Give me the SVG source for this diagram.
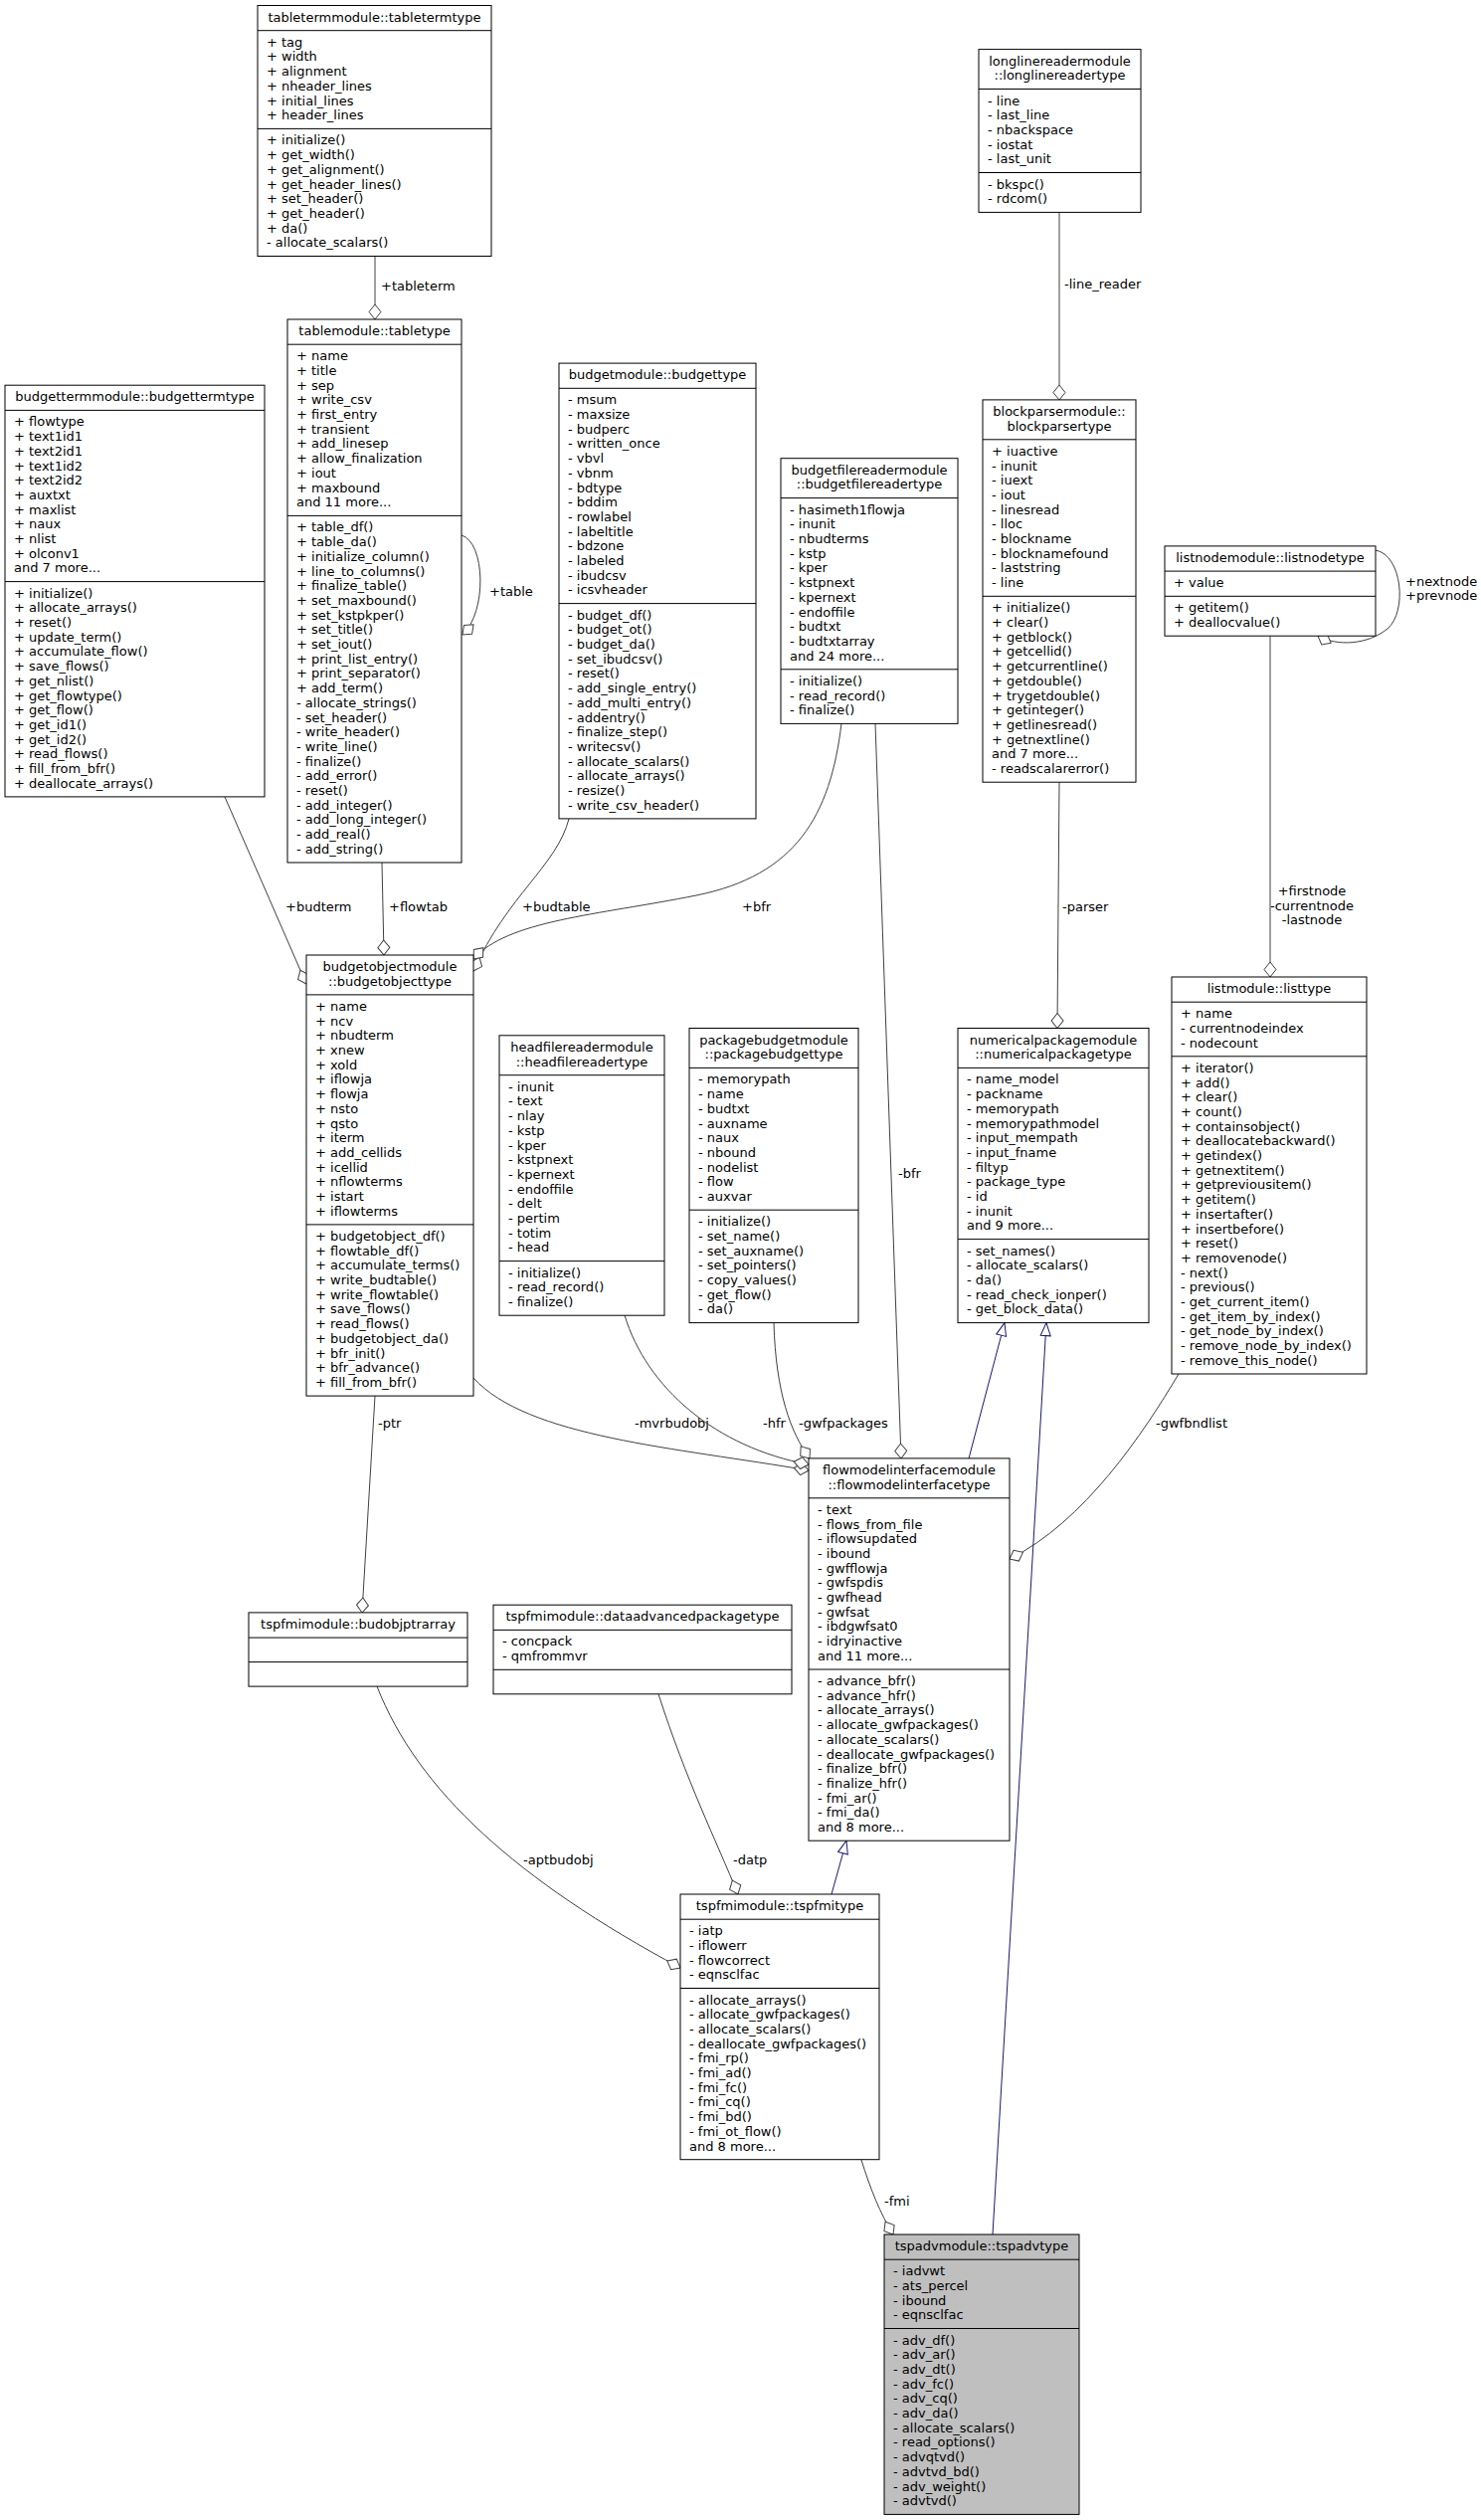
<svg xmlns="http://www.w3.org/2000/svg" width="1489" height="2533" viewBox="0 0 1489 2533">
<style>
text{font-family:"DejaVu Sans","Liberation Sans",sans-serif;font-size:13px;fill:#000}
.c{text-anchor:middle}
.n rect{fill:#fff;stroke:#000;stroke-width:1}
.n line{stroke:#000;stroke-width:1}
.root rect{fill:#bfbfbf}
.e{fill:none;stroke:#404040;stroke-width:1;marker-end:url(#dia)}
.i{fill:none;stroke:#191970;stroke-width:1;marker-end:url(#tri)}
</style>
<defs>
<marker id="dia" markerUnits="userSpaceOnUse" viewBox="-1 -7 17 14" markerWidth="17" markerHeight="14" refX="15" refY="0" orient="auto" overflow="visible"><path d="M0,0L7.5,-6L15,0L7.5,6Z" fill="#fff" stroke="#404040"/></marker>
<marker id="tri" markerUnits="userSpaceOnUse" viewBox="-1 -6 15 12" markerWidth="15" markerHeight="12" refX="13" refY="0" orient="auto" overflow="visible"><path d="M0,-5L13,0L0,5Z" fill="#fff" stroke="#191970"/></marker>
</defs>
<rect width="1489" height="2533" fill="#fff"/>
<g id="connectors">
<path class="e" d="M377,257.5L377,321"/>
<text x="383" y="292">+tableterm</text>
<path class="e" d="M464,538C488,545 490,615 465,638"/>
<text x="492" y="599">+table</text>
<path class="e" d="M226,801L308,989"/>
<text x="287" y="916">+budterm</text>
<path class="e" d="M384,867L386,960"/>
<text x="391" y="916">+flowtab</text>
<path class="e" d="M572,823C560,870 510,900 476,976"/>
<text x="525" y="916">+budtable</text>
<path class="e" d="M846,727C835,820 800,880 700,900C600,920 510,925 476,964"/>
<text x="746" y="916">+bfr</text>
<path class="e" d="M880,727L906,1466"/>
<text x="903" y="1184">-bfr</text>
<path class="e" d="M1065,213.4L1065,402"/>
<text x="1070" y="290">-line_reader</text>
<path class="e" d="M1065,786L1063,1033.5"/>
<text x="1068" y="916">-parser</text>
<path class="e" d="M1383,553C1410,558 1415,615 1395,632C1375,648 1345,650 1325,639.2"/>
<text x="1413" y="589">+nextnode</text>
<text x="1413" y="603">+prevnode</text>
<path class="e" d="M1277,639.2L1277,982"/>
<text class="c" x="1319" y="900"><tspan x="1319">+firstnode</tspan><tspan x="1319" dy="14.7">-currentnode</tspan><tspan x="1319" dy="14.7">-lastnode</tspan></text>
<path class="e" d="M1185,1381C1150,1440 1090,1530 1015,1567"/>
<text x="1162" y="1435">-gwfbndlist</text>
<path class="e" d="M476,1385C530,1445 680,1455 813,1478"/>
<text x="638" y="1435">-mvrbudobj</text>
<path class="e" d="M628,1322C650,1395 720,1455 813,1472"/>
<text x="767" y="1435">-hfr</text>
<path class="e" d="M778,1329.6C780,1400 795,1440 814,1466"/>
<text x="803" y="1435">-gwfpackages</text>
<path class="e" d="M377,1403L364,1621"/>
<text x="380" y="1435">-ptr</text>
<path class="e" d="M379,1695C420,1800 520,1890 684,1978"/>
<text x="526" y="1874">-aptbudobj</text>
<path class="e" d="M662,1702.8C690,1790 720,1850 742,1904"/>
<text x="737" y="1874">-datp</text>
<path class="e" d="M866,2171C875,2200 885,2225 898,2246"/>
<text x="889" y="2217">-fmi</text>
<path class="i" d="M974,1466L1010,1329.6"/>
<path class="i" d="M998,2246L1052,1329.6"/>
<path class="i" d="M836,1904L851,1850.2"/>
</g>
<g id="tabletermtype" class="n">
<rect x="259" y="5.5" width="235" height="252"/>
<line x1="259" y1="30.7" x2="494" y2="30.7"/><line x1="259" y1="129.4" x2="494" y2="129.4"/>
<text class="c" x="376.5" y="21.5">tabletermmodule::tabletermtype</text>
<text x="268" y="46.7"><tspan x="268">+ tag</tspan><tspan x="268" dy="14.7">+ width</tspan><tspan x="268" dy="14.7">+ alignment</tspan><tspan x="268" dy="14.7">+ nheader_lines</tspan><tspan x="268" dy="14.7">+ initial_lines</tspan><tspan x="268" dy="14.7">+ header_lines</tspan></text>
<text x="268" y="145.4"><tspan x="268">+ initialize()</tspan><tspan x="268" dy="14.7">+ get_width()</tspan><tspan x="268" dy="14.7">+ get_alignment()</tspan><tspan x="268" dy="14.7">+ get_header_lines()</tspan><tspan x="268" dy="14.7">+ set_header()</tspan><tspan x="268" dy="14.7">+ get_header()</tspan><tspan x="268" dy="14.7">+ da()</tspan><tspan x="268" dy="14.7">- allocate_scalars()</tspan></text>
</g>
<g id="longlinereadertype" class="n">
<rect x="984" y="49.6" width="163" height="163.8"/>
<line x1="984" y1="89.5" x2="1147" y2="89.5"/><line x1="984" y1="173.5" x2="1147" y2="173.5"/>
<text class="c" x="1065.5" y="65.6"><tspan x="1065.5">longlinereadermodule</tspan><tspan x="1065.5" dy="14.7">::longlinereadertype</tspan></text>
<text x="993" y="105.5"><tspan x="993">- line</tspan><tspan x="993" dy="14.7">- last_line</tspan><tspan x="993" dy="14.7">- nbackspace</tspan><tspan x="993" dy="14.7">- iostat</tspan><tspan x="993" dy="14.7">- last_unit</tspan></text>
<text x="993" y="189.5"><tspan x="993">- bkspc()</tspan><tspan x="993" dy="14.7">- rdcom()</tspan></text>
</g>
<g id="tabletype" class="n">
<rect x="289" y="321" width="175" height="546"/>
<line x1="289" y1="346.2" x2="464" y2="346.2"/><line x1="289" y1="518.4" x2="464" y2="518.4"/>
<text class="c" x="376.5" y="337">tablemodule::tabletype</text>
<text x="298" y="362.2"><tspan x="298">+ name</tspan><tspan x="298" dy="14.7">+ title</tspan><tspan x="298" dy="14.7">+ sep</tspan><tspan x="298" dy="14.7">+ write_csv</tspan><tspan x="298" dy="14.7">+ first_entry</tspan><tspan x="298" dy="14.7">+ transient</tspan><tspan x="298" dy="14.7">+ add_linesep</tspan><tspan x="298" dy="14.7">+ allow_finalization</tspan><tspan x="298" dy="14.7">+ iout</tspan><tspan x="298" dy="14.7">+ maxbound</tspan><tspan x="298" dy="14.7">and 11 more...</tspan></text>
<text x="298" y="534.4"><tspan x="298">+ table_df()</tspan><tspan x="298" dy="14.7">+ table_da()</tspan><tspan x="298" dy="14.7">+ initialize_column()</tspan><tspan x="298" dy="14.7">+ line_to_columns()</tspan><tspan x="298" dy="14.7">+ finalize_table()</tspan><tspan x="298" dy="14.7">+ set_maxbound()</tspan><tspan x="298" dy="14.7">+ set_kstpkper()</tspan><tspan x="298" dy="14.7">+ set_title()</tspan><tspan x="298" dy="14.7">+ set_iout()</tspan><tspan x="298" dy="14.7">+ print_list_entry()</tspan><tspan x="298" dy="14.7">+ print_separator()</tspan><tspan x="298" dy="14.7">+ add_term()</tspan><tspan x="298" dy="14.7">- allocate_strings()</tspan><tspan x="298" dy="14.7">- set_header()</tspan><tspan x="298" dy="14.7">- write_header()</tspan><tspan x="298" dy="14.7">- write_line()</tspan><tspan x="298" dy="14.7">- finalize()</tspan><tspan x="298" dy="14.7">- add_error()</tspan><tspan x="298" dy="14.7">- reset()</tspan><tspan x="298" dy="14.7">- add_integer()</tspan><tspan x="298" dy="14.7">- add_long_integer()</tspan><tspan x="298" dy="14.7">- add_real()</tspan><tspan x="298" dy="14.7">- add_string()</tspan></text>
</g>
<g id="budgettermtype" class="n">
<rect x="5" y="387.2" width="261" height="413.7"/>
<line x1="5" y1="412.4" x2="266" y2="412.4"/><line x1="5" y1="584.6" x2="266" y2="584.6"/>
<text class="c" x="135.5" y="403.2">budgettermmodule::budgettermtype</text>
<text x="14" y="428.4"><tspan x="14">+ flowtype</tspan><tspan x="14" dy="14.7">+ text1id1</tspan><tspan x="14" dy="14.7">+ text2id1</tspan><tspan x="14" dy="14.7">+ text1id2</tspan><tspan x="14" dy="14.7">+ text2id2</tspan><tspan x="14" dy="14.7">+ auxtxt</tspan><tspan x="14" dy="14.7">+ maxlist</tspan><tspan x="14" dy="14.7">+ naux</tspan><tspan x="14" dy="14.7">+ nlist</tspan><tspan x="14" dy="14.7">+ olconv1</tspan><tspan x="14" dy="14.7">and 7 more...</tspan></text>
<text x="14" y="600.6"><tspan x="14">+ initialize()</tspan><tspan x="14" dy="14.7">+ allocate_arrays()</tspan><tspan x="14" dy="14.7">+ reset()</tspan><tspan x="14" dy="14.7">+ update_term()</tspan><tspan x="14" dy="14.7">+ accumulate_flow()</tspan><tspan x="14" dy="14.7">+ save_flows()</tspan><tspan x="14" dy="14.7">+ get_nlist()</tspan><tspan x="14" dy="14.7">+ get_flowtype()</tspan><tspan x="14" dy="14.7">+ get_flow()</tspan><tspan x="14" dy="14.7">+ get_id1()</tspan><tspan x="14" dy="14.7">+ get_id2()</tspan><tspan x="14" dy="14.7">+ read_flows()</tspan><tspan x="14" dy="14.7">+ fill_from_bfr()</tspan><tspan x="14" dy="14.7">+ deallocate_arrays()</tspan></text>
</g>
<g id="budgettype" class="n">
<rect x="562" y="365.1" width="198" height="457.8"/>
<line x1="562" y1="390.3" x2="760" y2="390.3"/><line x1="562" y1="606.6" x2="760" y2="606.6"/>
<text class="c" x="661" y="381.1">budgetmodule::budgettype</text>
<text x="571" y="406.3"><tspan x="571">- msum</tspan><tspan x="571" dy="14.7">- maxsize</tspan><tspan x="571" dy="14.7">- budperc</tspan><tspan x="571" dy="14.7">- written_once</tspan><tspan x="571" dy="14.7">- vbvl</tspan><tspan x="571" dy="14.7">- vbnm</tspan><tspan x="571" dy="14.7">- bdtype</tspan><tspan x="571" dy="14.7">- bddim</tspan><tspan x="571" dy="14.7">- rowlabel</tspan><tspan x="571" dy="14.7">- labeltitle</tspan><tspan x="571" dy="14.7">- bdzone</tspan><tspan x="571" dy="14.7">- labeled</tspan><tspan x="571" dy="14.7">- ibudcsv</tspan><tspan x="571" dy="14.7">- icsvheader</tspan></text>
<text x="571" y="622.6"><tspan x="571">- budget_df()</tspan><tspan x="571" dy="14.7">- budget_ot()</tspan><tspan x="571" dy="14.7">- budget_da()</tspan><tspan x="571" dy="14.7">- set_ibudcsv()</tspan><tspan x="571" dy="14.7">- reset()</tspan><tspan x="571" dy="14.7">- add_single_entry()</tspan><tspan x="571" dy="14.7">- add_multi_entry()</tspan><tspan x="571" dy="14.7">- addentry()</tspan><tspan x="571" dy="14.7">- finalize_step()</tspan><tspan x="571" dy="14.7">- writecsv()</tspan><tspan x="571" dy="14.7">- allocate_scalars()</tspan><tspan x="571" dy="14.7">- allocate_arrays()</tspan><tspan x="571" dy="14.7">- resize()</tspan><tspan x="571" dy="14.7">- write_csv_header()</tspan></text>
</g>
<g id="budgetfilereadertype" class="n">
<rect x="785" y="460.7" width="178" height="266.7"/>
<line x1="785" y1="500.6" x2="963" y2="500.6"/><line x1="785" y1="672.8" x2="963" y2="672.8"/>
<text class="c" x="874" y="476.7"><tspan x="874">budgetfilereadermodule</tspan><tspan x="874" dy="14.7">::budgetfilereadertype</tspan></text>
<text x="794" y="516.6"><tspan x="794">- hasimeth1flowja</tspan><tspan x="794" dy="14.7">- inunit</tspan><tspan x="794" dy="14.7">- nbudterms</tspan><tspan x="794" dy="14.7">- kstp</tspan><tspan x="794" dy="14.7">- kper</tspan><tspan x="794" dy="14.7">- kstpnext</tspan><tspan x="794" dy="14.7">- kpernext</tspan><tspan x="794" dy="14.7">- endoffile</tspan><tspan x="794" dy="14.7">- budtxt</tspan><tspan x="794" dy="14.7">- budtxtarray</tspan><tspan x="794" dy="14.7">and 24 more...</tspan></text>
<text x="794" y="688.8"><tspan x="794">- initialize()</tspan><tspan x="794" dy="14.7">- read_record()</tspan><tspan x="794" dy="14.7">- finalize()</tspan></text>
</g>
<g id="blockparsertype" class="n">
<rect x="988" y="401.9" width="154" height="384.3"/>
<line x1="988" y1="441.8" x2="1142" y2="441.8"/><line x1="988" y1="599.3" x2="1142" y2="599.3"/>
<text class="c" x="1065" y="417.9"><tspan x="1065">blockparsermodule::</tspan><tspan x="1065" dy="14.7">blockparsertype</tspan></text>
<text x="997" y="457.8"><tspan x="997">+ iuactive</tspan><tspan x="997" dy="14.7">- inunit</tspan><tspan x="997" dy="14.7">- iuext</tspan><tspan x="997" dy="14.7">- iout</tspan><tspan x="997" dy="14.7">- linesread</tspan><tspan x="997" dy="14.7">- lloc</tspan><tspan x="997" dy="14.7">- blockname</tspan><tspan x="997" dy="14.7">- blocknamefound</tspan><tspan x="997" dy="14.7">- laststring</tspan><tspan x="997" dy="14.7">- line</tspan></text>
<text x="997" y="615.3"><tspan x="997">+ initialize()</tspan><tspan x="997" dy="14.7">+ clear()</tspan><tspan x="997" dy="14.7">+ getblock()</tspan><tspan x="997" dy="14.7">+ getcellid()</tspan><tspan x="997" dy="14.7">+ getcurrentline()</tspan><tspan x="997" dy="14.7">+ getdouble()</tspan><tspan x="997" dy="14.7">+ trygetdouble()</tspan><tspan x="997" dy="14.7">+ getinteger()</tspan><tspan x="997" dy="14.7">+ getlinesread()</tspan><tspan x="997" dy="14.7">+ getnextline()</tspan><tspan x="997" dy="14.7">and 7 more...</tspan><tspan x="997" dy="14.7">- readscalarerror()</tspan></text>
</g>
<g id="listnodetype" class="n">
<rect x="1171" y="548.9" width="212" height="90.3"/>
<line x1="1171" y1="574.1" x2="1383" y2="574.1"/><line x1="1171" y1="599.3" x2="1383" y2="599.3"/>
<text class="c" x="1277" y="564.9">listnodemodule::listnodetype</text>
<text x="1180" y="590.1">+ value</text>
<text x="1180" y="615.3"><tspan x="1180">+ getitem()</tspan><tspan x="1180" dy="14.7">+ deallocvalue()</tspan></text>
</g>
<g id="listtype" class="n">
<rect x="1178" y="982" width="196" height="399"/>
<line x1="1178" y1="1007.2" x2="1374" y2="1007.2"/><line x1="1178" y1="1061.8" x2="1374" y2="1061.8"/>
<text class="c" x="1276" y="998">listmodule::listtype</text>
<text x="1187" y="1023.2"><tspan x="1187">+ name</tspan><tspan x="1187" dy="14.7">- currentnodeindex</tspan><tspan x="1187" dy="14.7">- nodecount</tspan></text>
<text x="1187" y="1077.8"><tspan x="1187">+ iterator()</tspan><tspan x="1187" dy="14.7">+ add()</tspan><tspan x="1187" dy="14.7">+ clear()</tspan><tspan x="1187" dy="14.7">+ count()</tspan><tspan x="1187" dy="14.7">+ containsobject()</tspan><tspan x="1187" dy="14.7">+ deallocatebackward()</tspan><tspan x="1187" dy="14.7">+ getindex()</tspan><tspan x="1187" dy="14.7">+ getnextitem()</tspan><tspan x="1187" dy="14.7">+ getpreviousitem()</tspan><tspan x="1187" dy="14.7">+ getitem()</tspan><tspan x="1187" dy="14.7">+ insertafter()</tspan><tspan x="1187" dy="14.7">+ insertbefore()</tspan><tspan x="1187" dy="14.7">+ reset()</tspan><tspan x="1187" dy="14.7">+ removenode()</tspan><tspan x="1187" dy="14.7">- next()</tspan><tspan x="1187" dy="14.7">- previous()</tspan><tspan x="1187" dy="14.7">- get_current_item()</tspan><tspan x="1187" dy="14.7">- get_item_by_index()</tspan><tspan x="1187" dy="14.7">- get_node_by_index()</tspan><tspan x="1187" dy="14.7">- remove_node_by_index()</tspan><tspan x="1187" dy="14.7">- remove_this_node()</tspan></text>
</g>
<g id="numericalpackagetype" class="n">
<rect x="963" y="1033.5" width="192" height="296.1"/>
<line x1="963" y1="1073.4" x2="1155" y2="1073.4"/><line x1="963" y1="1245.6" x2="1155" y2="1245.6"/>
<text class="c" x="1059" y="1049.5"><tspan x="1059">numericalpackagemodule</tspan><tspan x="1059" dy="14.7">::numericalpackagetype</tspan></text>
<text x="972" y="1089.4"><tspan x="972">- name_model</tspan><tspan x="972" dy="14.7">- packname</tspan><tspan x="972" dy="14.7">- memorypath</tspan><tspan x="972" dy="14.7">- memorypathmodel</tspan><tspan x="972" dy="14.7">- input_mempath</tspan><tspan x="972" dy="14.7">- input_fname</tspan><tspan x="972" dy="14.7">- filtyp</tspan><tspan x="972" dy="14.7">- package_type</tspan><tspan x="972" dy="14.7">- id</tspan><tspan x="972" dy="14.7">- inunit</tspan><tspan x="972" dy="14.7">and 9 more...</tspan></text>
<text x="972" y="1261.6"><tspan x="972">- set_names()</tspan><tspan x="972" dy="14.7">- allocate_scalars()</tspan><tspan x="972" dy="14.7">- da()</tspan><tspan x="972" dy="14.7">- read_check_ionper()</tspan><tspan x="972" dy="14.7">- get_block_data()</tspan></text>
</g>
<g id="budgetobjecttype" class="n">
<rect x="308" y="960" width="168" height="443.1"/>
<line x1="308" y1="999.9" x2="476" y2="999.9"/><line x1="308" y1="1230.9" x2="476" y2="1230.9"/>
<text class="c" x="392" y="976"><tspan x="392">budgetobjectmodule</tspan><tspan x="392" dy="14.7">::budgetobjecttype</tspan></text>
<text x="317" y="1015.9"><tspan x="317">+ name</tspan><tspan x="317" dy="14.7">+ ncv</tspan><tspan x="317" dy="14.7">+ nbudterm</tspan><tspan x="317" dy="14.7">+ xnew</tspan><tspan x="317" dy="14.7">+ xold</tspan><tspan x="317" dy="14.7">+ iflowja</tspan><tspan x="317" dy="14.7">+ flowja</tspan><tspan x="317" dy="14.7">+ nsto</tspan><tspan x="317" dy="14.7">+ qsto</tspan><tspan x="317" dy="14.7">+ iterm</tspan><tspan x="317" dy="14.7">+ add_cellids</tspan><tspan x="317" dy="14.7">+ icellid</tspan><tspan x="317" dy="14.7">+ nflowterms</tspan><tspan x="317" dy="14.7">+ istart</tspan><tspan x="317" dy="14.7">+ iflowterms</tspan></text>
<text x="317" y="1246.9"><tspan x="317">+ budgetobject_df()</tspan><tspan x="317" dy="14.7">+ flowtable_df()</tspan><tspan x="317" dy="14.7">+ accumulate_terms()</tspan><tspan x="317" dy="14.7">+ write_budtable()</tspan><tspan x="317" dy="14.7">+ write_flowtable()</tspan><tspan x="317" dy="14.7">+ save_flows()</tspan><tspan x="317" dy="14.7">+ read_flows()</tspan><tspan x="317" dy="14.7">+ budgetobject_da()</tspan><tspan x="317" dy="14.7">+ bfr_init()</tspan><tspan x="317" dy="14.7">+ bfr_advance()</tspan><tspan x="317" dy="14.7">+ fill_from_bfr()</tspan></text>
</g>
<g id="headfilereadertype" class="n">
<rect x="502" y="1040.8" width="166" height="281.4"/>
<line x1="502" y1="1080.7" x2="668" y2="1080.7"/><line x1="502" y1="1267.6" x2="668" y2="1267.6"/>
<text class="c" x="585" y="1056.8"><tspan x="585">headfilereadermodule</tspan><tspan x="585" dy="14.7">::headfilereadertype</tspan></text>
<text x="511" y="1096.7"><tspan x="511">- inunit</tspan><tspan x="511" dy="14.7">- text</tspan><tspan x="511" dy="14.7">- nlay</tspan><tspan x="511" dy="14.7">- kstp</tspan><tspan x="511" dy="14.7">- kper</tspan><tspan x="511" dy="14.7">- kstpnext</tspan><tspan x="511" dy="14.7">- kpernext</tspan><tspan x="511" dy="14.7">- endoffile</tspan><tspan x="511" dy="14.7">- delt</tspan><tspan x="511" dy="14.7">- pertim</tspan><tspan x="511" dy="14.7">- totim</tspan><tspan x="511" dy="14.7">- head</tspan></text>
<text x="511" y="1283.6"><tspan x="511">- initialize()</tspan><tspan x="511" dy="14.7">- read_record()</tspan><tspan x="511" dy="14.7">- finalize()</tspan></text>
</g>
<g id="packagebudgettype" class="n">
<rect x="693" y="1033.5" width="170" height="296.1"/>
<line x1="693" y1="1073.4" x2="863" y2="1073.4"/><line x1="693" y1="1216.2" x2="863" y2="1216.2"/>
<text class="c" x="778" y="1049.5"><tspan x="778">packagebudgetmodule</tspan><tspan x="778" dy="14.7">::packagebudgettype</tspan></text>
<text x="702" y="1089.4"><tspan x="702">- memorypath</tspan><tspan x="702" dy="14.7">- name</tspan><tspan x="702" dy="14.7">- budtxt</tspan><tspan x="702" dy="14.7">- auxname</tspan><tspan x="702" dy="14.7">- naux</tspan><tspan x="702" dy="14.7">- nbound</tspan><tspan x="702" dy="14.7">- nodelist</tspan><tspan x="702" dy="14.7">- flow</tspan><tspan x="702" dy="14.7">- auxvar</tspan></text>
<text x="702" y="1232.2"><tspan x="702">- initialize()</tspan><tspan x="702" dy="14.7">- set_name()</tspan><tspan x="702" dy="14.7">- set_auxname()</tspan><tspan x="702" dy="14.7">- set_pointers()</tspan><tspan x="702" dy="14.7">- copy_values()</tspan><tspan x="702" dy="14.7">- get_flow()</tspan><tspan x="702" dy="14.7">- da()</tspan></text>
</g>
<g id="flowmodelinterfacetype" class="n">
<rect x="813" y="1465.9" width="202" height="384.3"/>
<line x1="813" y1="1505.8" x2="1015" y2="1505.8"/><line x1="813" y1="1678" x2="1015" y2="1678"/>
<text class="c" x="914" y="1481.9"><tspan x="914">flowmodelinterfacemodule</tspan><tspan x="914" dy="14.7">::flowmodelinterfacetype</tspan></text>
<text x="822" y="1521.8"><tspan x="822">- text</tspan><tspan x="822" dy="14.7">- flows_from_file</tspan><tspan x="822" dy="14.7">- iflowsupdated</tspan><tspan x="822" dy="14.7">- ibound</tspan><tspan x="822" dy="14.7">- gwfflowja</tspan><tspan x="822" dy="14.7">- gwfspdis</tspan><tspan x="822" dy="14.7">- gwfhead</tspan><tspan x="822" dy="14.7">- gwfsat</tspan><tspan x="822" dy="14.7">- ibdgwfsat0</tspan><tspan x="822" dy="14.7">- idryinactive</tspan><tspan x="822" dy="14.7">and 11 more...</tspan></text>
<text x="822" y="1694"><tspan x="822">- advance_bfr()</tspan><tspan x="822" dy="14.7">- advance_hfr()</tspan><tspan x="822" dy="14.7">- allocate_arrays()</tspan><tspan x="822" dy="14.7">- allocate_gwfpackages()</tspan><tspan x="822" dy="14.7">- allocate_scalars()</tspan><tspan x="822" dy="14.7">- deallocate_gwfpackages()</tspan><tspan x="822" dy="14.7">- finalize_bfr()</tspan><tspan x="822" dy="14.7">- finalize_hfr()</tspan><tspan x="822" dy="14.7">- fmi_ar()</tspan><tspan x="822" dy="14.7">- fmi_da()</tspan><tspan x="822" dy="14.7">and 8 more...</tspan></text>
</g>
<g id="budobjptrarray" class="n">
<rect x="250" y="1620.9" width="220" height="74.2"/>
<line x1="250" y1="1646.1" x2="470" y2="1646.1"/><line x1="250" y1="1670.6" x2="470" y2="1670.6"/>
<text class="c" x="360" y="1636.9">tspfmimodule::budobjptrarray</text>
</g>
<g id="dataadvancedpackagetype" class="n">
<rect x="496" y="1613.2" width="300" height="89.6"/>
<line x1="496" y1="1638.4" x2="796" y2="1638.4"/><line x1="496" y1="1678.3" x2="796" y2="1678.3"/>
<text class="c" x="646" y="1629.2">tspfmimodule::dataadvancedpackagetype</text>
<text x="505" y="1654.4"><tspan x="505">- concpack</tspan><tspan x="505" dy="14.7">- qmfrommvr</tspan></text>
</g>
<g id="tspfmitype" class="n">
<rect x="684" y="1904" width="200" height="266.7"/>
<line x1="684" y1="1929.2" x2="884" y2="1929.2"/><line x1="684" y1="1998.5" x2="884" y2="1998.5"/>
<text class="c" x="784" y="1920">tspfmimodule::tspfmitype</text>
<text x="693" y="1945.2"><tspan x="693">- iatp</tspan><tspan x="693" dy="14.7">- iflowerr</tspan><tspan x="693" dy="14.7">- flowcorrect</tspan><tspan x="693" dy="14.7">- eqnsclfac</tspan></text>
<text x="693" y="2014.5"><tspan x="693">- allocate_arrays()</tspan><tspan x="693" dy="14.7">- allocate_gwfpackages()</tspan><tspan x="693" dy="14.7">- allocate_scalars()</tspan><tspan x="693" dy="14.7">- deallocate_gwfpackages()</tspan><tspan x="693" dy="14.7">- fmi_rp()</tspan><tspan x="693" dy="14.7">- fmi_ad()</tspan><tspan x="693" dy="14.7">- fmi_fc()</tspan><tspan x="693" dy="14.7">- fmi_cq()</tspan><tspan x="693" dy="14.7">- fmi_bd()</tspan><tspan x="693" dy="14.7">- fmi_ot_flow()</tspan><tspan x="693" dy="14.7">and 8 more...</tspan></text>
</g>
<g id="tspadvtype" class="n root">
<rect x="889" y="2246" width="196" height="281.4"/>
<line x1="889" y1="2271.2" x2="1085" y2="2271.2"/><line x1="889" y1="2340.5" x2="1085" y2="2340.5"/>
<text class="c" x="987" y="2262">tspadvmodule::tspadvtype</text>
<text x="898" y="2287.2"><tspan x="898">- iadvwt</tspan><tspan x="898" dy="14.7">- ats_percel</tspan><tspan x="898" dy="14.7">- ibound</tspan><tspan x="898" dy="14.7">- eqnsclfac</tspan></text>
<text x="898" y="2356.5"><tspan x="898">- adv_df()</tspan><tspan x="898" dy="14.7">- adv_ar()</tspan><tspan x="898" dy="14.7">- adv_dt()</tspan><tspan x="898" dy="14.7">- adv_fc()</tspan><tspan x="898" dy="14.7">- adv_cq()</tspan><tspan x="898" dy="14.7">- adv_da()</tspan><tspan x="898" dy="14.7">- allocate_scalars()</tspan><tspan x="898" dy="14.7">- read_options()</tspan><tspan x="898" dy="14.7">- advqtvd()</tspan><tspan x="898" dy="14.7">- advtvd_bd()</tspan><tspan x="898" dy="14.7">- adv_weight()</tspan><tspan x="898" dy="14.7">- advtvd()</tspan></text>
</g>
</svg>
